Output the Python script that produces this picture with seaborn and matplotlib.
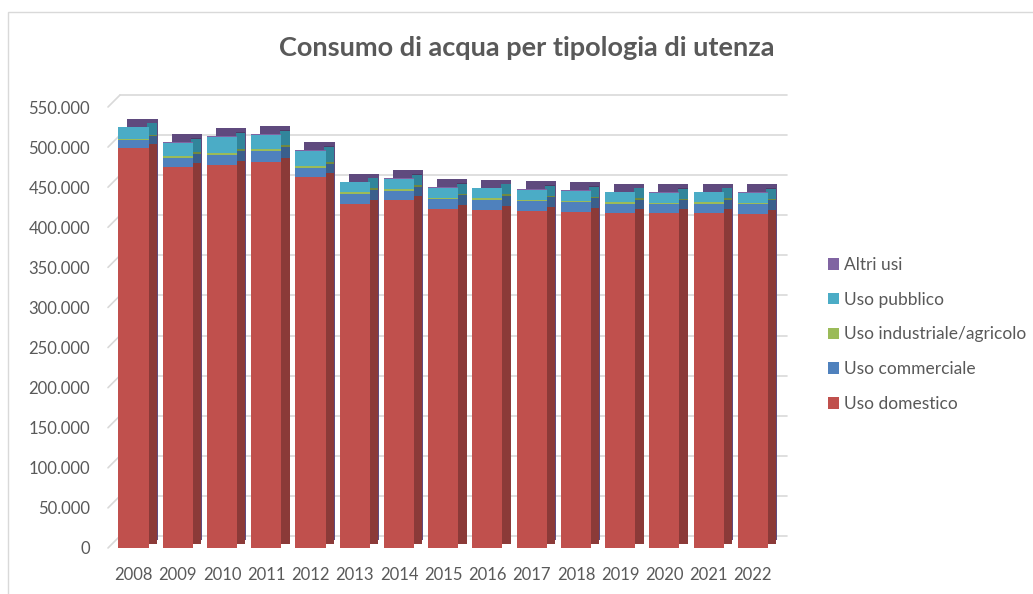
import numpy as np
import pandas as pd
import matplotlib
matplotlib.use("Agg")
import matplotlib.pyplot as plt
import seaborn as sns
from matplotlib.transforms import ScaledTranslation
from matplotlib.ticker import FuncFormatter, MultipleLocator
from matplotlib.patches import Patch, Rectangle

# ---------------- data ----------------
years = ["2008", "2009", "2010", "2011", "2012", "2013", "2014", "2015",
         "2016", "2017", "2018", "2019", "2020", "2021", "2022"]
uso_domestico = [499000, 475000, 478000, 481500, 463000, 429000, 434000, 423000,
                 422000, 420500, 419500, 418000, 417500, 417500, 417000]
uso_commerciale = [10000, 11500, 12500, 13500, 11500, 12500, 11500, 12500,
                   12500, 12500, 12000, 11500, 11500, 12000, 12000]
uso_industriale = [1500, 2500, 2500, 2500, 2500, 2000, 2000, 1500,
                   1500, 1500, 1500, 1500, 1500, 1500, 1500]
uso_pubblico = [14000, 16500, 19500, 17500, 18500, 12500, 12500, 12500,
                12500, 12000, 12000, 12500, 12500, 12500, 12500]
altri_usi = [1000, 1000, 1000, 1000, 1000, 1000, 1000, 1000,
             1000, 1000, 1000, 1000, 1000, 1000, 1000]

series_names = ["Uso domestico", "Uso commerciale", "Uso industriale/agricolo",
                "Uso pubblico", "Altri usi"]
front_colors = ["#C0504D", "#4F81BD", "#9BBB59", "#4BACC6", "#8064A2"]
side_colors = ["#8B3A38", "#3A5F8C", "#71893F", "#31859B", "#4E3B66"]
top_color = "#5F4A7E"

df = pd.DataFrame({"anno": years,
                   "Uso domestico": uso_domestico,
                   "Uso commerciale": uso_commerciale,
                   "Uso industriale/agricolo": uso_industriale,
                   "Uso pubblico": uso_pubblico,
                   "Altri usi": altri_usi})
cum = df[series_names].cumsum(axis=1)

# ---------------- style ----------------
sns.set_theme(style="white")
plt.rcParams['font.family'] = ['Lato', 'DejaVu Sans']
TXT = "#595959"
GRID = "#D9D9D9"

W, H = 1033, 594
fig = plt.figure(figsize=(W / 100, H / 100), dpi=100)
ax = fig.add_axes([108 / W, 1 - 548 / H, (787 - 108) / W, (548 - 107) / H])

BAR_W = 0.68          # front face width (category units)
SIDE_W = 0.225        # depth of side face (category units)
half_px = 14.0        # half front width in pixels (slight overlap)
depth_px, rise_px = 9, 8


def px(dx, dy):
    return ScaledTranslation(dx / 100, dy / 100, fig.dpi_scale_trans)


def draw_layer(values, color, width, offset, z):
    n0 = len(ax.patches)
    sns.barplot(x=df["anno"], y=values, color=color, width=width,
                saturation=1, ax=ax, zorder=z)
    for p in ax.patches[n0:]:
        p.set_linewidth(0)
        if offset is not None:
            p.set_transform(ax.transData + offset)


# top faces: whole stack shifted back/up
draw_layer(cum["Altri usi"], top_color, BAR_W, px(depth_px, rise_px), 2)
# side faces: narrow strips to the right of each front segment
for name, col in zip(reversed(series_names), reversed(side_colors)):
    draw_layer(cum[name], col, SIDE_W, px(half_px + depth_px / 2, rise_px / 2), 2.5)
# front faces
for name, col in zip(reversed(series_names), reversed(front_colors)):
    draw_layer(cum[name], col, BAR_W, None, 3)

ax.set_xlim(-0.576, 14.77)
ax.set_ylim(0, 550000)
ax.yaxis.set_major_locator(MultipleLocator(50000))
ax.yaxis.set_major_formatter(FuncFormatter(lambda v, p: f"{int(v):,}".replace(",", ".")))
ax.set_xlabel("")
ax.set_ylabel("")
for s in ax.spines.values():
    s.set_visible(False)
ax.tick_params(axis="both", length=0, colors=TXT, labelsize=12)
ax.tick_params(axis="y", pad=13)
ax.tick_params(axis="x", pad=14)
for lbl in ax.get_xticklabels() + ax.get_yticklabels():
    lbl.set_color(TXT)

# back-wall gridlines with a slanted side-wall segment
for v in np.arange(0, 550001, 50000):
    ax.plot([12 / 679, 1.0], [v, v], color=GRID, lw=1.2, zorder=0.5,
            transform=ax.get_yaxis_transform() + px(0, 12), clip_on=False)
    ax.annotate("", xy=(0, v), xycoords=ax.get_yaxis_transform(),
                xytext=(12, 12), textcoords="offset pixels",
                arrowprops=dict(arrowstyle="-", color=GRID, lw=1.2,
                                shrinkA=0, shrinkB=0), zorder=0.5)

# title
fig.text(527 / W, 1 - 48 / H, "Consumo di acqua per tipologia di utenza",
         ha="center", va="center", fontsize=19.5, fontweight="bold", color=TXT)

# legend
handles = [Patch(facecolor=c, edgecolor="none") for c in reversed(front_colors)]
labels = list(reversed(series_names))
leg = fig.legend(handles, labels, loc="upper left",
                 bbox_to_anchor=(828 / W, 1 - 257 / H), frameon=False,
                 fontsize=12.5, handlelength=0.65, handleheight=0.65,
                 handletextpad=0.3, labelspacing=1.08, borderpad=0,
                 borderaxespad=0)
for t in leg.get_texts():
    t.set_color(TXT)

# chart border
fig.patches.append(Rectangle((8 / W, -0.01), 1.0, 1 - 12 / H + 0.01,
                             transform=fig.transFigure, fill=False,
                             edgecolor=GRID, lw=1))

fig.savefig("out.png", dpi=100, facecolor="white")
